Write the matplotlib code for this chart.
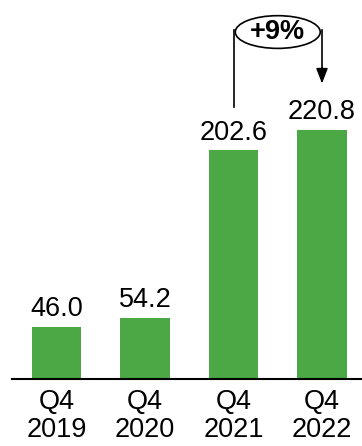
import matplotlib.pyplot as plt
from matplotlib.patches import Ellipse

quarters = ["Q4\n2019", "Q4\n2020", "Q4\n2021", "Q4\n2022"]
values = [46.0, 54.2, 202.6, 220.8]
growth_label = "+9%"

plt.rcParams["font.family"] = ["Liberation Sans", "DejaVu Sans"]
FS = 19.5

fig = plt.figure(figsize=(3.62, 4.46), dpi=100)
ax = fig.add_axes([12 / 362, 67 / 446, 350 / 362, 379 / 446])

x = list(range(len(values)))
ax.bar(x, values, width=0.555, color="#4BA845")

for xi, v in zip(x, values):
    ax.annotate(f"{v:.1f}", (xi, v), textcoords="offset points", xytext=(0, 3.5),
                ha="center", va="bottom", fontsize=FS)

ax.set_xlim(-0.503, 3.452)
ax.set_ylim(0, 336)
ax.set_xticks(x)
ax.set_xticklabels(quarters, fontsize=FS, linespacing=1.1)
ax.tick_params(axis="x", length=0, pad=7)
ax.set_yticks([])
for side in ("left", "right", "top"):
    ax.spines[side].set_visible(False)
ax.spines["bottom"].set_linewidth(1.5)

# growth callout between last two bars
ax.plot([2, 2], [241, 309], color="black", lw=1.2, clip_on=False)
ax.plot([3, 3], [309, 275], color="black", lw=1.2, clip_on=False)
ax.annotate("", xy=(3, 262), xytext=(3, 276),
            arrowprops=dict(arrowstyle="-|>,head_length=0.9,head_width=0.35",
                            color="black", lw=1.2, shrinkA=0, shrinkB=0))
ax.add_patch(Ellipse((2.5, 307.6), 0.96, 29, fill=False, edgecolor="black",
                     lw=1.2, clip_on=False))
ax.text(2.5, 307.6, growth_label, ha="center", va="center", fontsize=FS,
        fontweight="bold")

fig.savefig("out.png", dpi=100)
